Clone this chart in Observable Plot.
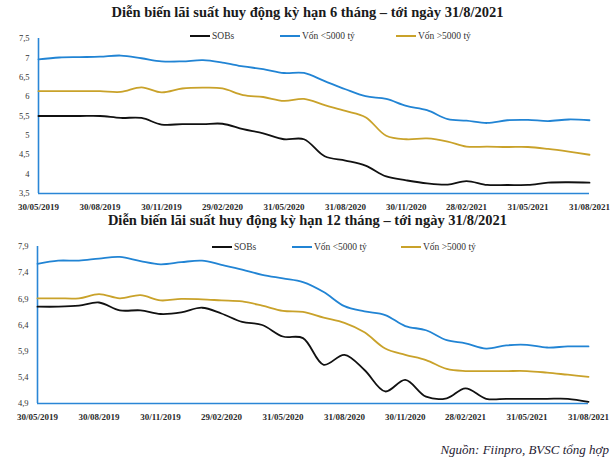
<!DOCTYPE html>
<html>
<head>
<meta charset="utf-8">
<script src="https://cdn.jsdelivr.net/npm/d3@7"></script>
<script src="https://cdn.jsdelivr.net/npm/@observablehq/plot@0.6"></script>
<style>
  html, body { margin: 0; padding: 0; background: #fff; }
  #root { position: relative; width: 615px; height: 466px; overflow: hidden; font-family: "Liberation Serif", "DejaVu Serif", serif; }
  .title { position: absolute; left: 0; width: 615px; text-align: center; font-weight: bold; font-size: 14.5px; color: #1a1a1a; white-space: nowrap; }
  .leg { position: absolute; font-family: "Liberation Serif", serif; font-size: 9.5px; color: #333; white-space: nowrap; display: flex; align-items: center; }
  .sw { display: inline-block; width: 20px; height: 2px; margin-right: 2px; }
  .chart { position: absolute; left: 0; }
  .caption { position: absolute; right: 6px; top: 442px; font-style: italic; font-size: 13px; color: #1f2233; white-space: nowrap; }
</style>
</head>
<body>
<div id="root"></div>
<script>
// ---------- DATA ----------
const seriesNames = ["SOBs", "Vốn <5000 tỷ", "Vốn >5000 tỷ"];
const seriesColors = ["#111111", "#2184d4", "#c9a22a"];

const dateLabels = [
  "30/05/2019","30/06/2019","31/07/2019","30/08/2019","30/09/2019","31/10/2019","30/11/2019","31/12/2019",
  "31/01/2020","29/02/2020","31/03/2020","30/04/2020","31/05/2020","30/06/2020","31/07/2020","31/08/2020",
  "30/09/2020","31/10/2020","30/11/2020","31/12/2020","31/01/2021","28/02/2021","31/03/2021","30/04/2021",
  "31/05/2021","30/06/2021","31/07/2021","31/08/2021"
];
const tickLabels = ["30/05/2019","30/08/2019","30/11/2019","29/02/2020","31/05/2020","31/08/2020","30/11/2020","28/02/2021","31/05/2021","31/08/2021"];

// 6-month term
const sobs6 = [5.50,5.50,5.50,5.50,5.45,5.45,5.28,5.29,5.29,5.30,5.16,5.05,4.90,4.90,4.46,4.35,4.22,3.94,3.84,3.76,3.73,3.82,3.72,3.72,3.72,3.78,3.79,3.78];
const small6 = [6.96,7.01,7.02,7.03,7.06,6.99,6.91,6.91,6.94,6.88,6.78,6.71,6.61,6.61,6.40,6.19,6.01,5.94,5.76,5.65,5.42,5.38,5.32,5.39,5.40,5.37,5.41,5.39];
const large6 = [6.14,6.14,6.14,6.14,6.12,6.24,6.11,6.21,6.23,6.21,6.04,5.99,5.89,5.94,5.78,5.63,5.47,4.99,4.90,4.92,4.84,4.71,4.71,4.70,4.70,4.65,4.58,4.50];
const yTicks6 = [3.5,4,4.5,5,5.5,6,6.5,7,7.5];

// 12-month term
const sobs12 = [6.75,6.75,6.77,6.83,6.68,6.68,6.61,6.64,6.73,6.62,6.46,6.40,6.18,6.15,5.64,5.83,5.54,5.13,5.35,5.03,5.00,5.19,4.99,4.99,4.99,4.99,4.99,4.93];
const small12 = [7.57,7.63,7.63,7.67,7.70,7.62,7.56,7.60,7.63,7.55,7.46,7.36,7.29,7.22,7.03,6.76,6.66,6.59,6.38,6.30,6.11,6.05,5.95,6.01,6.02,5.97,5.99,5.99];
const large12 = [6.91,6.91,6.91,6.99,6.91,6.97,6.87,6.90,6.89,6.87,6.85,6.77,6.67,6.65,6.54,6.44,6.26,5.95,5.83,5.73,5.56,5.52,5.52,5.52,5.52,5.49,5.45,5.41];
const yTicks12 = [4.9,5.4,5.9,6.4,6.9,7.4,7.9];

const title6 = "Diễn biến lãi suất huy động kỳ hạn 6 tháng – tới ngày 31/8/2021";
const title12 = "Diễn biến lãi suất huy động kỳ hạn 12 tháng – tới ngày 31/8/2021";
const caption = "Nguồn: Fiinpro, BVSC tổng hợp";

// ---------- BUILD ----------
const parse = d3.utcParse("%d/%m/%Y");
const fmt = d3.utcFormat("%d/%m/%Y");
const dates = dateLabels.map(parse);
const ticks = tickLabels.map(parse);
const axisBlue = "#2a86d6";

function rows(arrs) {
  const out = [];
  arrs.forEach((arr, k) => arr.forEach((v, i) => out.push({date: dates[i], value: v, series: seriesNames[k]})));
  return out;
}

function makeChart(arrs, yTicks, opts) {
  const data = rows(arrs);
  const yMin = yTicks[0], yMax = yTicks[yTicks.length - 1];
  return Plot.plot({
    width: 615,
    height: opts.height,
    marginLeft: opts.ml,
    marginRight: opts.mr,
    marginTop: opts.mt,
    marginBottom: opts.mb,
    style: {fontFamily: "'Liberation Serif', serif", background: "transparent", overflow: "visible"},
    x: {type: "utc", domain: [dates[0], dates[dates.length - 1]], ticks: ticks, tickFormat: fmt, tickSize: 0, tickPadding: 10, label: null},
    y: {domain: [yMin, yMax], ticks: yTicks, tickFormat: d => String(d).replace(".", ","), tickSize: 0, tickPadding: 9, label: null},
    color: {domain: seriesNames, range: seriesColors},
    marks: [
      Plot.axisX({ticks: ticks, tickFormat: fmt, tickSize: 0, tickPadding: 10, fontSize: 9, fontWeight: "bold", fill: "#2b2b2b", label: null}),
      Plot.axisY({ticks: yTicks, tickFormat: d => String(d).replace(".", ","), tickSize: 0, tickPadding: 9, fontSize: 8.5, fill: "#333", label: null}),
      Plot.ruleX([dates[0]], {y1: yMin, y2: yMax, stroke: axisBlue, strokeWidth: 1.6}),
      Plot.ruleY([yMin], {stroke: axisBlue, strokeWidth: 1.6}),
      Plot.line(data, {x: "date", y: "value", z: "series", stroke: "series", strokeWidth: 1.8, curve: "catmull-rom"})
    ]
  });
}

const root = document.getElementById("root");

function addTitle(text, top) {
  const t = document.createElement("div");
  t.className = "title"; t.textContent = text; t.style.top = top + "px";
  root.appendChild(t);
}
function addLegend(positions, top) {
  seriesNames.forEach((name, k) => {
    const l = document.createElement("div");
    l.className = "leg"; l.style.left = positions[k] + "px"; l.style.top = top + "px";
    const sw = document.createElement("span");
    sw.className = "sw"; sw.style.background = seriesColors[k];
    l.appendChild(sw);
    l.appendChild(document.createTextNode(name));
    root.appendChild(l);
  });
}
function addChart(svg, top) {
  const d = document.createElement("div");
  d.className = "chart"; d.style.top = top + "px";
  d.appendChild(svg);
  root.appendChild(d);
}

addTitle(title6, 4);
addLegend([190, 280, 396], 31);
addChart(makeChart([sobs6, small6, large6], yTicks6, {height: 185, ml: 38, mr: 26, mt: 8, mb: 22}), 30);

addTitle(title12, 212);
addLegend([212, 292, 401], 242);
addChart(makeChart([sobs12, small12, large12], yTicks12, {height: 189, ml: 37, mr: 27, mt: 10, mb: 22}), 236);

const c = document.createElement("div");
c.className = "caption"; c.textContent = caption;
root.appendChild(c);
</script>
</body>
</html>
